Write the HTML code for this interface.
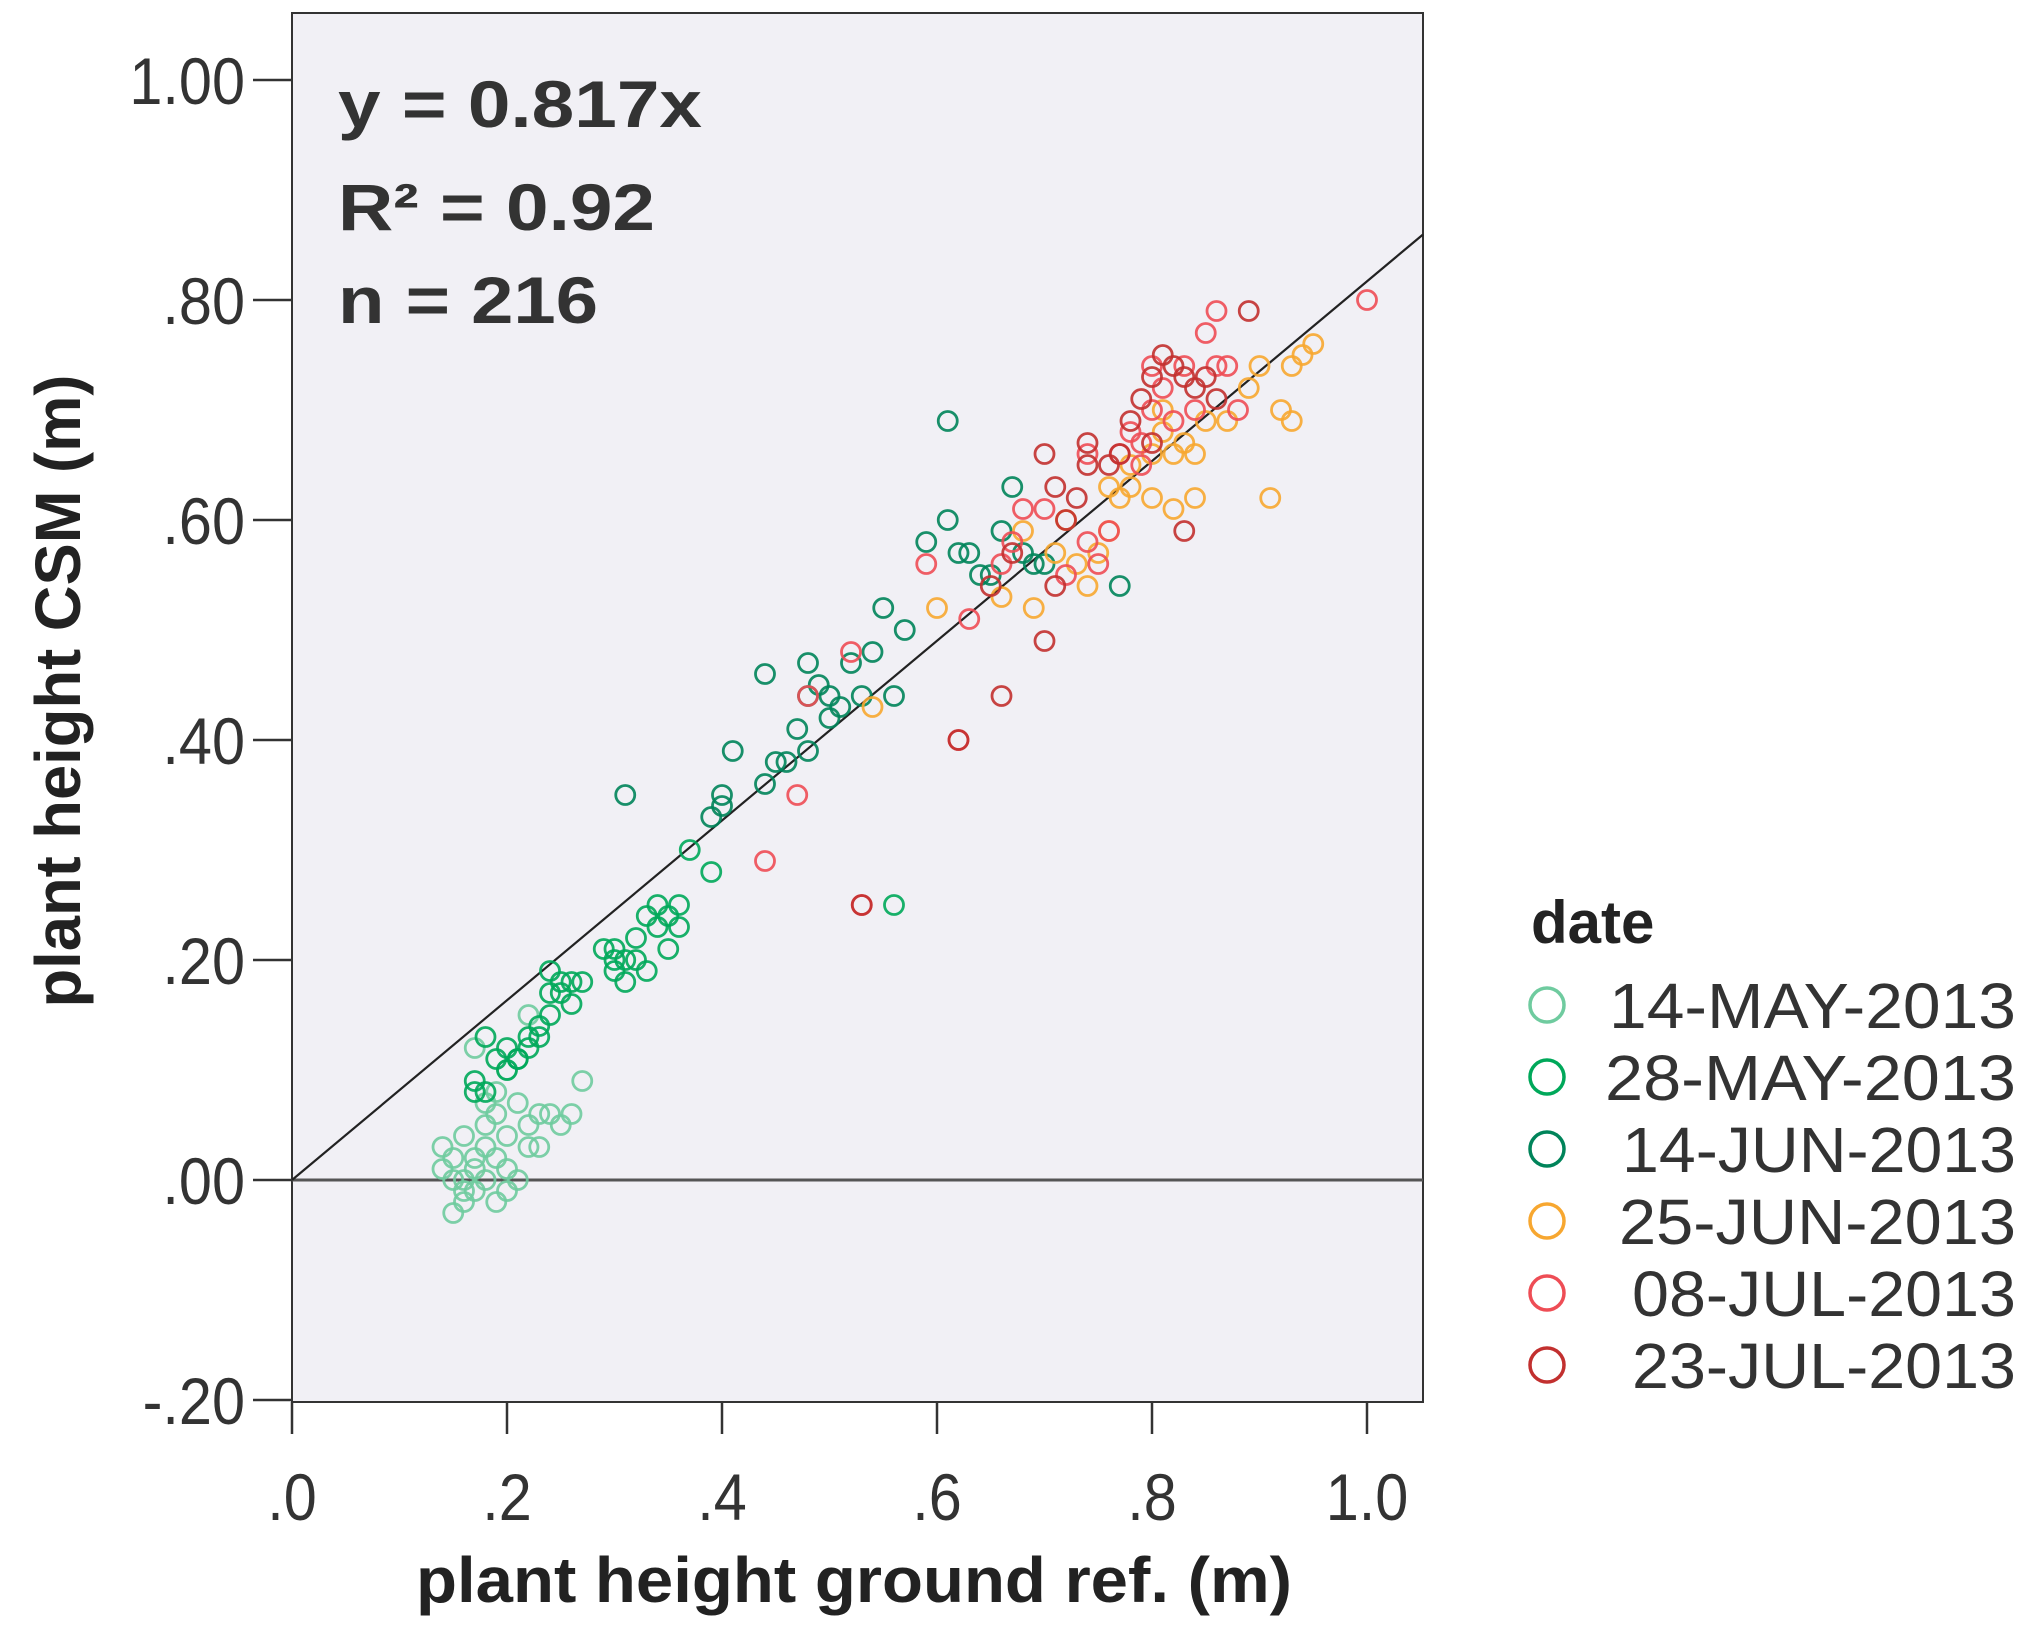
<!DOCTYPE html>
<html><head><meta charset="utf-8"><style>
html,body{margin:0;padding:0;background:#fff;}
svg{display:block;font-family:"Liberation Sans",sans-serif;}
</style></head><body>
<svg id="chart" width="2026" height="1631" viewBox="0 0 2026 1631" xmlns="http://www.w3.org/2000/svg">
<rect x="292" y="13" width="1131" height="1389" fill="#f1f0f5" stroke="#333" stroke-width="2"/>
<g id="marks"></g>
<g id="axes"></g>
<text x="338" y="127" font-size="66" font-weight="bold" fill="#333" textLength="364" lengthAdjust="spacingAndGlyphs">y = 0.817x</text>
<text x="338" y="230" font-size="66" font-weight="bold" fill="#333" textLength="317" lengthAdjust="spacingAndGlyphs">R² = 0.92</text>
<text x="338" y="323" font-size="66" font-weight="bold" fill="#333" textLength="260" lengthAdjust="spacingAndGlyphs">n = 216</text>
<text x="416" y="1602" font-size="64" font-weight="bold" fill="#222" textLength="876" lengthAdjust="spacingAndGlyphs">plant height ground ref. (m)</text>
<text transform="translate(80,691) rotate(-90)" x="0" y="0" text-anchor="middle" font-size="64" font-weight="bold" fill="#222" textLength="633" lengthAdjust="spacingAndGlyphs">plant height CSM (m)</text>
<g id="legend">
<text x="1531" y="943" font-size="60" font-weight="bold" fill="#222">date</text>
</g>
</svg>
<script>
const tickX = [0, 0.2, 0.4, 0.6, 0.8, 1.0];
const tickXLabels = [".0", ".2", ".4", ".6", ".8", "1.0"];
const tickY = [-0.2, 0, 0.2, 0.4, 0.6, 0.8, 1.0];
const tickYLabels = ["-.20", ".00", ".20", ".40", ".60", ".80", "1.00"];
const seriesNames = ["14-MAY-2013", "28-MAY-2013", "14-JUN-2013", "25-JUN-2013", "08-JUL-2013", "23-JUL-2013"];
const fitSlope = 0.817;
const may14 = [[0.14,0.03],[0.14,0.01],[0.15,0.0],[0.15,-0.03],[0.16,-0.02],[0.16,0.04],[0.17,0.02],[0.17,-0.01],[0.18,0.0],[0.18,0.03],[0.19,0.02],[0.19,-0.02],[0.19,0.06],[0.20,0.04],[0.20,0.01],[0.21,0.0],[0.21,0.07],[0.22,0.05],[0.22,0.03],[0.23,0.06],[0.24,0.06],[0.25,0.05],[0.26,0.06],[0.27,0.09],[0.18,0.07],[0.20,0.10],[0.17,0.12],[0.16,0.00],[0.15,0.02],[0.22,0.15],[0.23,0.03],[0.18,0.05],[0.2,-0.01],[0.17,0.01],[0.16,-0.01],[0.19,0.08]];
const may28 = [[0.17,0.08],[0.17,0.09],[0.18,0.13],[0.19,0.11],[0.2,0.10],[0.2,0.12],[0.21,0.11],[0.22,0.12],[0.22,0.13],[0.23,0.14],[0.23,0.13],[0.24,0.15],[0.24,0.19],[0.25,0.18],[0.25,0.17],[0.26,0.16],[0.26,0.18],[0.27,0.18],[0.29,0.21],[0.30,0.19],[0.30,0.21],[0.31,0.18],[0.31,0.2],[0.32,0.22],[0.32,0.20],[0.33,0.19],[0.33,0.24],[0.34,0.23],[0.35,0.21],[0.35,0.24],[0.36,0.23],[0.36,0.25],[0.56,0.25],[0.39,0.28],[0.37,0.30],[0.18,0.08],[0.21,0.11],[0.24,0.17],[0.3,0.2],[0.34,0.25]];
const jun14 = [[0.31,0.35],[0.39,0.33],[0.40,0.35],[0.40,0.34],[0.41,0.39],[0.44,0.46],[0.44,0.36],[0.45,0.38],[0.46,0.38],[0.47,0.41],[0.48,0.39],[0.48,0.44],[0.48,0.47],[0.49,0.45],[0.50,0.42],[0.50,0.44],[0.51,0.43],[0.52,0.47],[0.53,0.44],[0.54,0.48],[0.55,0.52],[0.56,0.44],[0.57,0.50],[0.59,0.58],[0.61,0.60],[0.61,0.69],[0.62,0.57],[0.63,0.57],[0.64,0.55],[0.66,0.59],[0.67,0.63],[0.68,0.57],[0.69,0.56],[0.70,0.56],[0.77,0.54],[0.65,0.55]];
const jun25 = [[0.54,0.43],[0.6,0.52],[0.66,0.53],[0.68,0.59],[0.69,0.52],[0.71,0.57],[0.72,0.60],[0.74,0.54],[0.75,0.57],[0.76,0.59],[0.76,0.63],[0.77,0.62],[0.78,0.65],[0.80,0.62],[0.80,0.66],[0.81,0.68],[0.82,0.61],[0.82,0.66],[0.83,0.67],[0.84,0.62],[0.84,0.66],[0.85,0.69],[0.87,0.69],[0.89,0.72],[0.90,0.74],[0.91,0.62],[0.92,0.70],[0.93,0.69],[0.93,0.74],[0.94,0.75],[0.95,0.76],[0.81,0.70],[0.73,0.56],[0.78,0.63]];
const jul08 = [[0.44,0.29],[0.47,0.35],[0.48,0.44],[0.52,0.48],[0.53,0.25],[0.59,0.56],[0.63,0.51],[0.62,0.40],[0.67,0.58],[0.68,0.61],[0.70,0.61],[0.72,0.55],[0.74,0.58],[0.75,0.56],[0.76,0.59],[0.77,0.66],[0.78,0.68],[0.79,0.67],[0.80,0.70],[0.81,0.72],[0.82,0.69],[0.83,0.74],[0.84,0.70],[0.85,0.77],[0.86,0.79],[0.86,0.74],[0.87,0.74],[0.88,0.70],[1.0,0.80],[0.79,0.65],[0.74,0.66],[0.66,0.56],[0.80,0.74]];
const jul23 = [[0.53,0.25],[0.62,0.40],[0.66,0.44],[0.70,0.49],[0.65,0.54],[0.67,0.57],[0.70,0.66],[0.71,0.63],[0.71,0.54],[0.73,0.62],[0.74,0.67],[0.74,0.65],[0.77,0.66],[0.78,0.69],[0.79,0.71],[0.80,0.73],[0.81,0.75],[0.82,0.74],[0.83,0.73],[0.83,0.59],[0.84,0.72],[0.85,0.73],[0.86,0.71],[0.89,0.79],[0.80,0.67],[0.76,0.65],[0.72,0.60]];

const seriesData = [may14, may28, jun14, jun25, jul08, jul23];
const colors = ["#6fcb9f", "#00a85a", "#00845a", "#f7a730", "#ee4d55", "#c2302f"];
const legendWidths = [407, 411, 394, 397, 384, 384];
const NS = "http://www.w3.org/2000/svg";
const X0 = 292, XU = 1075, Y0 = 1180, YU = 1100;
const PL = 292, PR = 1423, PT = 13, PB = 1402;
function sx(v){ return X0 + v * XU; }
function sy(v){ return Y0 - v * YU; }
function mk(tag, attrs, parent){ const e = document.createElementNS(NS, tag); for (const k in attrs) e.setAttribute(k, attrs[k]); parent.appendChild(e); return e; }
function squeeze(t, f){ const w = t.getComputedTextLength(); t.setAttribute('textLength', (w * f).toFixed(1)); t.setAttribute('lengthAdjust', 'spacingAndGlyphs'); }

const axes = document.getElementById('axes');
const marks = document.getElementById('marks');

const zl = mk('line', {x1: PL, x2: PR, y1: sy(0), y2: sy(0), stroke: '#555', 'stroke-width': 3}, marks);



const xEnd = (PR - X0) / XU;
const fl = mk('line', {x1: sx(0), y1: sy(0), x2: sx(xEnd), y2: sy(fitSlope * xEnd), stroke: '#222', 'stroke-width': 2.2}, marks);



seriesData.forEach((pts, si) => {
  const g = mk('g', {}, marks);
  
  
  pts.forEach(p => {
    const c = mk('circle', {cx: sx(p[0]), cy: sy(p[1]), r: 9.5, fill: 'none', stroke: colors[si], 'stroke-width': 2.8, 'stroke-opacity': 0.9}, g);
    
    
  });
});

tickY.forEach((v, i) => {
  const t = mk('line', {x1: 253, x2: PL, y1: sy(v), y2: sy(v), stroke: '#333', 'stroke-width': 2.5}, axes);
  
  
  const tx = mk('text', {x: 245, y: sy(v) + 24, 'text-anchor': 'end', 'font-size': 66, fill: '#333'}, axes);
  tx.textContent = tickYLabels[i];
  
  
  squeeze(tx, 0.9);
});
tickX.forEach((v, i) => {
  const t = mk('line', {x1: sx(v), x2: sx(v), y1: PB, y2: 1434, stroke: '#333', 'stroke-width': 2.5}, axes);
  
  
  const tx = mk('text', {x: sx(v), y: 1520, 'text-anchor': 'middle', 'font-size': 66, fill: '#333'}, axes);
  tx.textContent = tickXLabels[i];
  
  
  squeeze(tx, 0.9);
});

const legend = document.getElementById('legend');
seriesNames.forEach((n, i) => {
  const cy = 1005 + i * 72;
  const g = mk('g', {}, legend);
  
  
  mk('circle', {cx: 1547, cy: cy, r: 17, fill: 'none', stroke: colors[i], 'stroke-width': 3.5}, g);
  const t = mk('text', {x: 2016, y: cy + 23, 'text-anchor': 'end', 'font-size': 64, fill: '#333', textLength: legendWidths[i], lengthAdjust: 'spacingAndGlyphs'}, g);
  t.textContent = n;
});
</script>
</body></html>
